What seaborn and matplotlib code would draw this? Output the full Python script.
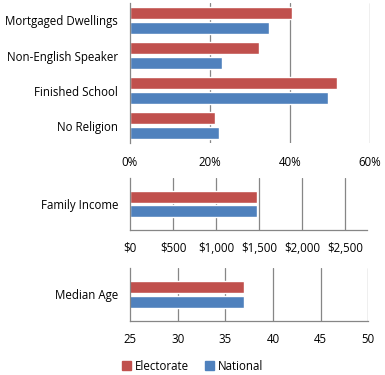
import numpy as np
import pandas as pd
import matplotlib.pyplot as plt
from matplotlib.ticker import FuncFormatter
import seaborn as sns

# data
pct_categories = ['Mortgaged Dwellings', 'Non-English Speaker', 'Finished School', 'No Religion']
pct_electorate = [40.6, 32.3, 51.8, 21.2]
pct_national = [34.8, 23.1, 49.6, 22.3]

income_categories = ['Family Income']
income_electorate = [1481]
income_national = [1470]

age_categories = ['Median Age']
age_electorate = [37.0]
age_national = [37.0]

series = ['Electorate', 'National']
colors = {'Electorate': '#C0504D', 'National': '#4F81BD'}
grid_col = '#868686'


def long_df(cats, elec, nat):
    return pd.DataFrame({
        'category': cats * 2,
        'series': ['Electorate'] * len(cats) + ['National'] * len(cats),
        'value': list(elec) + list(nat),
    })


sns.set_style('white')
plt.rcParams['font.family'] = ['Open Sans', 'DejaVu Sans']
plt.rcParams['text.color'] = 'black'
plt.rcParams['xtick.labelcolor'] = 'black'
plt.rcParams['ytick.labelcolor'] = 'black'
fs = 8.3

W, H = 385, 375
fig = plt.figure(figsize=(W / 100, H / 100), dpi=100)


def px_axes(left, top, right, bottom):
    return fig.add_axes([left / W, 1 - bottom / H, (right - left) / W, (bottom - top) / H])


def style(ax, ticks, lo, hi, fmt, show_bottom):
    ax.set_xlim(lo, hi)
    ax.set_xticks(ticks)
    ax.xaxis.set_major_formatter(FuncFormatter(fmt))
    ax.set_xlabel('')
    ax.set_ylabel('')
    ax.grid(False)
    for t in ticks[1:]:
        ax.axvline(t, color=grid_col, lw=0.9, zorder=0)
    for s in ['top', 'right']:
        ax.spines[s].set_visible(False)
    ax.spines['left'].set_color(grid_col)
    ax.spines['left'].set_linewidth(0.9)
    ax.spines['bottom'].set_visible(show_bottom)
    ax.spines['bottom'].set_color(grid_col)
    ax.spines['bottom'].set_linewidth(0.9)
    ax.tick_params(axis='y', length=0, pad=8.5, labelsize=fs)
    if show_bottom:
        ax.tick_params(axis='x', length=2.5, width=0.9, color=grid_col, pad=6, labelsize=fs)
        n = len(ax.get_yticks())
        ax.set_yticks(np.arange(-0.5, n, 1.0), minor=True)
        ax.tick_params(axis='y', which='minor', length=2.5, width=0.9, color=grid_col)
    else:
        ax.tick_params(axis='x', length=0, pad=9, labelsize=fs)
    if ax.get_legend() is not None:
        ax.get_legend().remove()


# top: percentages
ax1 = px_axes(130, 3, 370, 143)
sns.barplot(data=long_df(pct_categories, pct_electorate, pct_national), x='value', y='category',
            hue='series', palette=colors, saturation=1, orient='h', width=0.86, gap=0.22, ax=ax1, zorder=2)
style(ax1, [0, 20, 40, 60], 0, 60, lambda v, p: f'{v:.0f}%', False)

# middle: income
ax2 = px_axes(130, 178, 366.7, 230)
sns.barplot(data=long_df(income_categories, income_electorate, income_national), x='value', y='category',
            hue='series', palette=colors, saturation=1, orient='h', width=0.565, gap=0.2, ax=ax2, zorder=2)
style(ax2, [0, 500, 1000, 1500, 2000, 2500], 0, 2750, lambda v, p: f'${v:,.0f}', True)

# bottom: median age
ax3 = px_axes(130, 268, 368.3, 321)
sns.barplot(data=long_df(age_categories, age_electorate, age_national), x='value', y='category',
            hue='series', palette=colors, saturation=1, orient='h', width=0.565, gap=0.2, ax=ax3, zorder=2)
style(ax3, [25, 30, 35, 40, 45, 50], 25, 50, lambda v, p: f'{v:.0f}', True)

handles = [plt.Rectangle((0, 0), 1, 1, color=colors[s]) for s in series]
fig.legend(handles, series, loc='center', bbox_to_anchor=(0.5, 1 - 366 / H), ncol=2, frameon=False,
           fontsize=fs, handlelength=0.75, handleheight=0.75, handletextpad=0.35, columnspacing=1.4)

fig.savefig('out.png', dpi=100, facecolor='white')
